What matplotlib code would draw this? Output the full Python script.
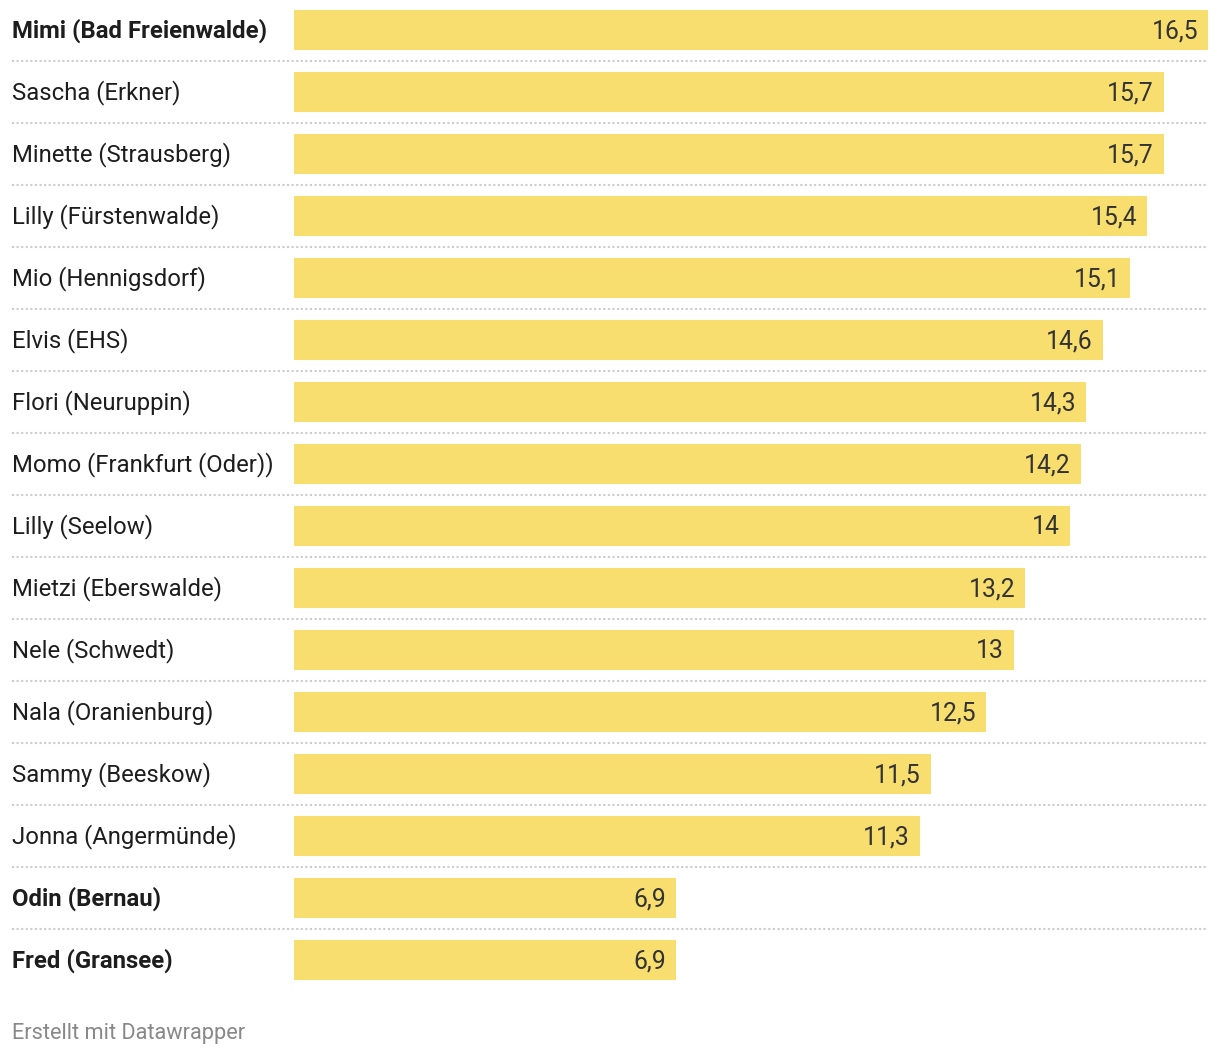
import matplotlib.pyplot as plt
from matplotlib.transforms import blended_transform_factory, offset_copy

# data
names = ["Mimi (Bad Freienwalde)", "Sascha (Erkner)", "Minette (Strausberg)",
         "Lilly (Fürstenwalde)", "Mio (Hennigsdorf)", "Elvis (EHS)",
         "Flori (Neuruppin)", "Momo (Frankfurt (Oder))", "Lilly (Seelow)",
         "Mietzi (Eberswalde)", "Nele (Schwedt)", "Nala (Oranienburg)",
         "Sammy (Beeskow)", "Jonna (Angermünde)", "Odin (Bernau)", "Fred (Gransee)"]
values = [16.5, 15.7, 15.7, 15.4, 15.1, 14.6, 14.3, 14.2, 14.0, 13.2, 13.0,
          12.5, 11.5, 11.3, 6.9, 6.9]
bold_rows = ["Mimi (Bad Freienwalde)", "Odin (Bernau)", "Fred (Gransee)"]

plt.rcParams['font.family'] = ['Roboto', 'DejaVu Sans']

W, H = 1220, 1056
fig = plt.figure(figsize=(W / 100, H / 100), dpi=100)

# axes span from x=12 to x=1208 px, bars start at x=294
left_px, right_px, bar0_px = 12, 1208, 294
ax = fig.add_axes([left_px / W, 0, (right_px - left_px) / W, 1])
px_per_unit = (right_px - bar0_px) / max(values)
ax.set_xlim(-(bar0_px - left_px) / px_per_unit, max(values))

pitch = 62.0
top_center = 30.0
ax.set_ylim((H - top_center) / pitch, -top_center / pitch)
ax.axis('off')

ypos = list(range(len(names)))
ax.barh(ypos, values, height=40 / pitch, color='#F8DE6F', linewidth=0)

trans = blended_transform_factory(ax.transAxes, ax.transData)
lab_trans = offset_copy(trans, fig=fig, x=0, y=-1, units='dots')
val_trans = offset_copy(ax.transData, fig=fig, x=-10, y=-1, units='dots')
for i, (n, v) in enumerate(zip(names, values)):
    ax.text(0, i, n, transform=lab_trans, ha='left', va='center', fontsize=17.2,
            color='#1d1d1d', fontweight='bold' if n in bold_rows else 'normal')
    ax.text(v, i, str(v).replace('.0', '').replace('.', ','),
            transform=val_trans, ha='right', va='center', fontsize=17.8,
            color='#333333')

# dotted row separators
for i in range(len(names) - 1):
    ax.plot([0, 1], [i + 0.5, i + 0.5], transform=trans, color='#cccccc',
            linestyle=(0, (1, 1.2)), linewidth=1.5, clip_on=False)

fig.text(left_px / W, 1 - 1033 / H, "Erstellt mit Datawrapper", ha='left',
         va='center', fontsize=15.7, color='#888888')

fig.savefig('out.png', dpi=100)
